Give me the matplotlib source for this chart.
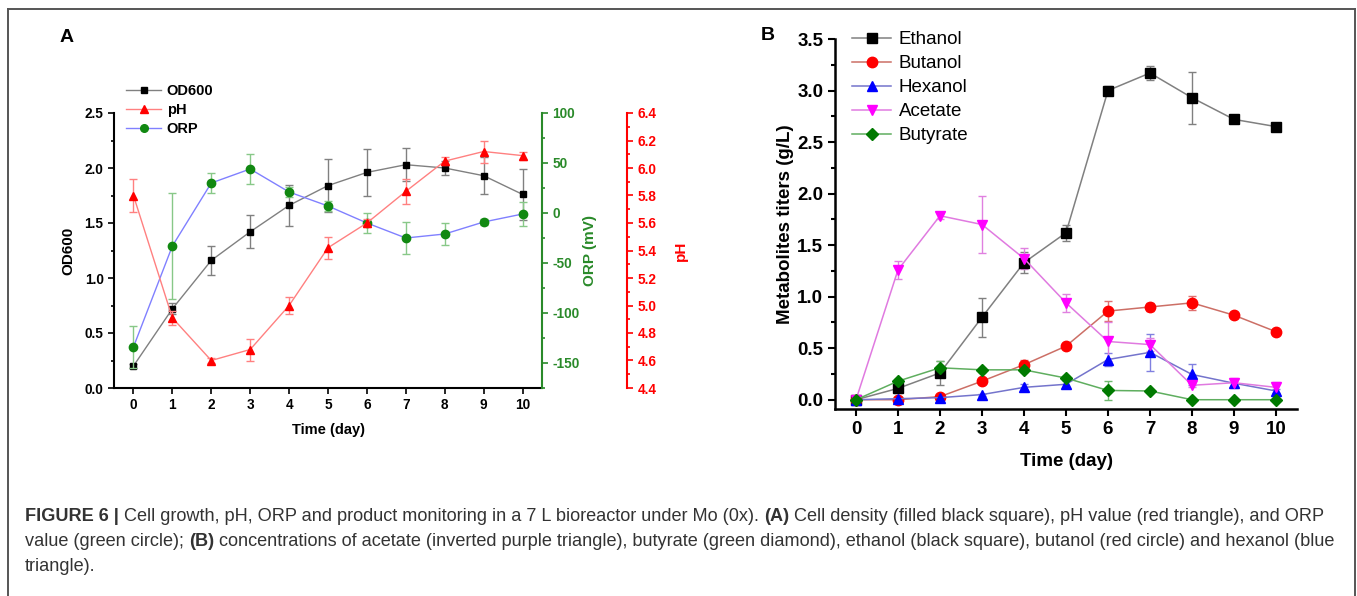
import numpy as np
import matplotlib
matplotlib.use("Agg")
import matplotlib.pyplot as plt
from matplotlib.lines import Line2D
from matplotlib.ticker import MultipleLocator, FormatStrFormatter

plt.rcParams["font.family"] = ["Liberation Sans", "DejaVu Sans"]
plt.rcParams["axes.unicode_minus"] = False

# ---- data ----
days = np.arange(11)

# panel A
od600 = [0.20, 0.72, 1.16, 1.42, 1.66, 1.84, 1.96, 2.03, 2.00, 1.93, 1.76]
od600_err = [0.02, 0.05, 0.13, 0.15, 0.19, 0.24, 0.21, 0.15, 0.06, 0.17, 0.23]
ph = [5.80, 4.91, 4.60, 4.68, 5.00, 5.42, 5.60, 5.83, 6.05, 6.12, 6.09]
ph_err = [0.12, 0.05, 0.02, 0.08, 0.06, 0.08, 0.03, 0.09, 0.03, 0.08, 0.03]
orp = [-134, -33, 30, 44, 21, 7, -10, -25, -21, -9, -1]
orp_err = [21, 53, 10, 15, 5, 5, 10, 16, 11, 3, 12]

# panel B
ethanol = [0, 0.11, 0.26, 0.80, 1.33, 1.62, 3.00, 3.17, 2.93, 2.72, 2.65]
ethanol_err = [0.01, 0.04, 0.12, 0.19, 0.10, 0.08, 0.04, 0.07, 0.25, 0.02, 0.02]
butanol = [0, 0, 0.03, 0.18, 0.34, 0.52, 0.86, 0.90, 0.94, 0.82, 0.66]
butanol_err = [0, 0, 0.01, 0.02, 0.05, 0.02, 0.10, 0.04, 0.07, 0.03, 0.02]
hexanol = [0, 0.01, 0.02, 0.05, 0.12, 0.15, 0.39, 0.46, 0.245, 0.16, 0.085]
hexanol_err = [0, 0, 0.01, 0.01, 0.03, 0.04, 0.06, 0.18, 0.10, 0.04, 0.02]
acetate = [0, 1.26, 1.785, 1.70, 1.37, 0.94, 0.565, 0.535, 0.14, 0.165, 0.12]
acetate_err = [0, 0.09, 0.03, 0.28, 0.10, 0.09, 0.19, 0.06, 0.02, 0.05, 0.05]
butyrate = [0, 0.18, 0.31, 0.29, 0.29, 0.21, 0.09, 0.085, 0, 0, 0]
butyrate_err = [0, 0.02, 0.07, 0.02, 0.02, 0.02, 0.09, 0.01, 0, 0, 0]

W, H = 1357, 596
fig = plt.figure(figsize=(W / 100, H / 100), dpi=100)

GREEN = "#2a8a2a"
RED = "#ff0000"


def bold_ticks(ax, size):
    ax.tick_params(labelsize=size)
    for lab in ax.get_xticklabels() + ax.get_yticklabels():
        lab.set_fontweight("bold")


# ---------------- panel A ----------------
ax = fig.add_axes([114 / W, 1 - 388 / H, 428 / W, 275 / H])
par = ax.twinx()   # ORP
par2 = ax.twinx()  # pH
par2.spines["right"].set_position(("outward", 85 * 0.72))

ax.errorbar(days, od600, yerr=od600_err, color="#808080", lw=1, marker="s",
            ms=5, mfc="k", mec="k", ecolor="#808080", elinewidth=1, capsize=3, zorder=3)
par2.errorbar(days, ph, yerr=ph_err, color="#ff8080", lw=1, marker="^",
              ms=6, mfc=RED, mec=RED, ecolor="#ff8080", elinewidth=1, capsize=3)
par.errorbar(days, orp, yerr=orp_err, color="#8080ff", lw=1, marker="o",
             ms=6, mfc="#118811", mec="#118811", ecolor="#88c888", elinewidth=1, capsize=3)

ax.set_xlim(-0.5, 10.5)
ax.set_ylim(0, 2.5)
ax.set_xticks(days)
ax.yaxis.set_major_locator(MultipleLocator(0.5))
ax.yaxis.set_minor_locator(MultipleLocator(0.25))
ax.yaxis.set_major_formatter(FormatStrFormatter("%.1f"))
par.set_ylim(-175, 100)
par.yaxis.set_major_locator(MultipleLocator(50))
par.yaxis.set_minor_locator(MultipleLocator(25))
par2.set_ylim(4.4, 6.4)
par2.yaxis.set_major_locator(MultipleLocator(0.2))
par2.yaxis.set_minor_locator(MultipleLocator(0.1))
par2.yaxis.set_major_formatter(FormatStrFormatter("%.1f"))

for a in (ax, par, par2):
    a.spines["top"].set_visible(False)
ax.spines["right"].set_visible(False)
for a in (par, par2):
    a.spines["left"].set_visible(False)
    a.spines["bottom"].set_visible(False)
par.spines["right"].set_color(GREEN)
par.spines["right"].set_linewidth(1.5)
par2.spines["right"].set_color(RED)
par2.spines["right"].set_linewidth(1.5)
ax.spines["left"].set_linewidth(1.5)
ax.spines["bottom"].set_linewidth(1.5)

ax.tick_params(direction="out", length=4, width=1.2)
ax.tick_params(which="minor", direction="out", length=2.5, width=1.2)
par.tick_params(which="both", direction="out", colors=GREEN, width=1.2)
par.tick_params(length=4)
par.tick_params(which="minor", length=2.5)
par2.tick_params(which="both", direction="out", colors=RED, width=1.2)
par2.tick_params(length=4)
par2.tick_params(which="minor", length=2.5)
for a in (ax, par, par2):
    bold_ticks(a, 9.8)

ax.set_xlabel("Time (day)", fontsize=10.5, fontweight="bold")
ax.xaxis.set_label_coords(0.5, -0.127)
ax.set_ylabel("OD600", fontsize=11, fontweight="bold")
ax.yaxis.set_label_coords(-0.091, 0.5)
par.set_ylabel("ORP (mV)", fontsize=11, fontweight="bold", color=GREEN)
par.yaxis.set_label_coords(1.096, 0.5)
par2.set_ylabel("pH", fontsize=11, fontweight="bold", color=RED)
par2.yaxis.set_label_coords(1.308, 0.5)

handles_a = [
    Line2D([], [], color="#808080", marker="s", ms=4.5, mfc="k", mec="k", lw=1),
    Line2D([], [], color="#ff8080", marker="^", ms=5.5, mfc=RED, mec=RED, lw=1),
    Line2D([], [], color="#8080ff", marker="o", ms=5.5, mfc="#118811", mec="#118811", lw=1),
]
par2.legend(handles_a, ["OD600", "pH", "ORP"], loc="upper left",
            bbox_to_anchor=(126 / W, 1 - 84 / H), bbox_transform=fig.transFigure,
            frameon=False, borderpad=0, borderaxespad=0, handlelength=2.4,
            handletextpad=0.4, labelspacing=0.35,
            prop={"size": 10.5, "weight": "bold"})

fig.text(67 / W, 1 - 37 / H, "A", fontsize=14, fontweight="bold", ha="center", va="center")

# ---------------- panel B ----------------
bx = fig.add_axes([835 / W, 1 - 409 / H, 462 / W, 370 / H])
series_b = [
    ("Ethanol", ethanol, ethanol_err, "s", "k", "#808080", "#808080"),
    ("Butanol", butanol, butanol_err, "o", "#ff0000", "#cc6f66", "#e07070"),
    ("Hexanol", hexanol, hexanol_err, "^", "#0000ff", "#7474cc", "#8080e0"),
    ("Acetate", acetate, acetate_err, "v", "#ff00ff", "#e07ae0", "#e080e0"),
    ("Butyrate", butyrate, butyrate_err, "D", "#007a00", "#5fae5f", "#70b870"),
]
handles_b = []
for name, vals, err, mk, mc, lc, ec in series_b:
    ms = 6 if mk == "D" else 7.5
    bx.errorbar(days, vals, yerr=err, color=lc, lw=1.1, marker=mk, ms=ms,
                mfc=mc, mec=mc, ecolor=ec, elinewidth=1, capsize=3)
    handles_b.append(Line2D([], [], color=lc, lw=1.1, marker=mk, ms=ms, mfc=mc, mec=mc))

bx.set_xlim(-0.5, 10.5)
bx.set_ylim(-0.09, 3.5)
bx.set_xticks(days)
bx.yaxis.set_major_locator(MultipleLocator(0.5))
bx.yaxis.set_minor_locator(MultipleLocator(0.25))
bx.yaxis.set_major_formatter(FormatStrFormatter("%.1f"))
bx.spines["top"].set_visible(False)
bx.spines["right"].set_visible(False)
bx.spines["left"].set_linewidth(1.8)
bx.spines["bottom"].set_linewidth(1.8)
bx.tick_params(direction="out", length=5, width=1.5)
bx.tick_params(which="minor", direction="out", length=3, width=1.5)
bold_ticks(bx, 13.5)
bx.set_xlabel("Time (day)", fontsize=13.5, fontweight="bold")
bx.xaxis.set_label_coords(0.5, -0.119)
bx.set_ylabel("Metabolites titers (g/L)", fontsize=13.5, fontweight="bold")
bx.yaxis.set_label_coords(-0.089, 0.5)
bx.legend(handles_b, [s[0] for s in series_b], loc="upper left",
          bbox_to_anchor=(852 / W, 1 - 31 / H), bbox_transform=fig.transFigure,
          frameon=False, borderpad=0, borderaxespad=0, handlelength=2.1,
          handletextpad=0.4, labelspacing=0.37, prop={"size": 13.5})

fig.text(768 / W, 1 - 35 / H, "B", fontsize=14, fontweight="bold", ha="center", va="center")

# ---------------- frame and caption ----------------
frame = dict(transform=fig.transFigure, color="#555555", lw=1.4)
fig.add_artist(Line2D([8 / W, 8 / W], [0, 1 - 9 / H], **frame))
fig.add_artist(Line2D([8 / W, 1355 / W], [1 - 9 / H, 1 - 9 / H], **frame))
fig.add_artist(Line2D([1355 / W, 1355 / W], [0, 1 - 9 / H], **frame))

caption = [
    [("FIGURE 6 |", True),
     ("Cell growth, pH, ORP and product monitoring in a 7 L bioreactor under Mo (0x).", False),
     ("(A)", True),
     ("Cell density (filled black square), pH value (red triangle), and ORP", False)],
    [("value (green circle);", False), ("(B)", True),
     ("concentrations of acetate (inverted purple triangle), butyrate (green diamond), "
      "ethanol (black square), butanol (red circle) and hexanol (blue", False)],
    [("triangle).", False)],
]
renderer = fig.canvas.get_renderer()


def text_w(s, bold, size):
    t = fig.text(0, 0, s, fontsize=size, fontweight="bold" if bold else "normal")
    w = t.get_window_extent(renderer).width
    t.remove()
    return w


def line_w(parts, size):
    sp = text_w("a a", False, size) - text_w("aa", False, size)
    return sum(text_w(s, b, size) for s, b in parts) + sp * (len(parts) - 1)


# size the caption so the first line spans the same width as in the figure
cap_size = 11.3 * 1305 / line_w(caption[0], 11.3)
space_w = text_w("a a", False, cap_size) - text_w("aa", False, cap_size)
baselines = [521, 546, 571]
for parts, yb in zip(caption, baselines):
    x = 25.0
    for s, bold in parts:
        fig.text(x / W, 1 - yb / H, s, fontsize=cap_size, color="#333333",
                 fontweight="bold" if bold else "normal", va="baseline")
        x += text_w(s, bold, cap_size) + space_w

fig.savefig("out.png", dpi=100)
